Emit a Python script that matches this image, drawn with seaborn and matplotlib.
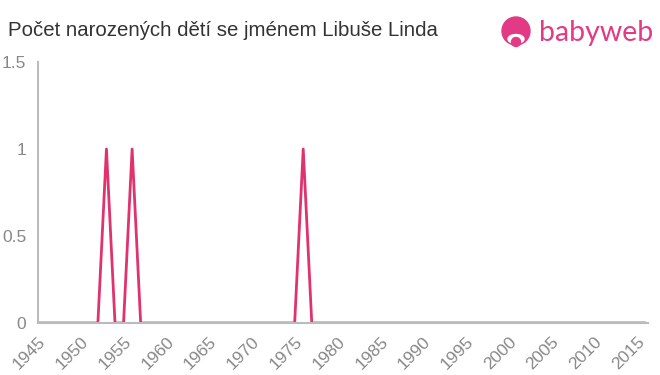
import matplotlib
matplotlib.use("Agg")
import matplotlib.pyplot as plt
import seaborn as sns
import pandas as pd
import numpy as np
from matplotlib.patches import Circle, Ellipse

years = list(range(1945, 2017))
peak_years = [1953, 1956, 1976]
peak_values = [1, 1, 1]
counts = [peak_values[peak_years.index(y)] if y in peak_years else 0 for y in years]
xticks = list(range(1945, 2016, 5))
yticks = [0, 0.5, 1, 1.5]
ytick_labels = ["0", "0.5", "1", "1.5"]
title = "Počet narozených dětí se jménem Libuše Linda"

df = pd.DataFrame({"year": years, "count": counts})

sns.set_style("white")
plt.rcParams['font.family'] = ['Liberation Sans', 'DejaVu Sans']

fig = plt.figure(figsize=(6.6, 3.75), dpi=100)
ax = fig.add_axes([38/660, 52/375, 610/660, 261/375])
sns.lineplot(data=df, x="year", y="count", ax=ax, color="#e0336e", linewidth=2)

ax.set_xlim(1945, 2016.3)
ax.set_ylim(0, 1.5)
ax.set_xticks(xticks)
ax.set_xticklabels([str(x) for x in xticks], rotation=45, ha="right", rotation_mode="anchor")
ax.set_yticks(yticks)
ax.set_yticklabels(ytick_labels)
ax.set_xlabel("")
ax.set_ylabel("")
for s in ["top", "right"]:
    ax.spines[s].set_visible(False)
for s in ["left", "bottom"]:
    ax.spines[s].set_color("#bbbbbb")
    ax.spines[s].set_linewidth(1.5)
ax.tick_params(axis="both", colors="#bbbbbb", labelcolor="#888888", labelsize=12.5, length=5, width=1.5, direction="out")
ax.tick_params(axis="x", pad=3)

fig.text(8/660, 1 - 31/375, title, fontsize=14.7, color="#333333", va="center", ha="left")

# logo
pink = "#e23a84"
logo_ax = fig.add_axes([0, 0, 1, 1], facecolor="none")
logo_ax.set_xlim(0, 660)
logo_ax.set_ylim(375, 0)
logo_ax.axis("off")
logo_ax.add_patch(Circle((516, 31), 14, color=pink))
logo_ax.add_patch(Ellipse((516, 39), 16, 9, color="white"))
logo_ax.add_patch(Circle((516, 42), 4.5, color=pink))
logo_ax.text(539, 33, "babyweb", fontsize=20.5, color=pink, va="center", ha="left", family=["Lato", "DejaVu Sans"])

fig.savefig("out.png", dpi=100)
